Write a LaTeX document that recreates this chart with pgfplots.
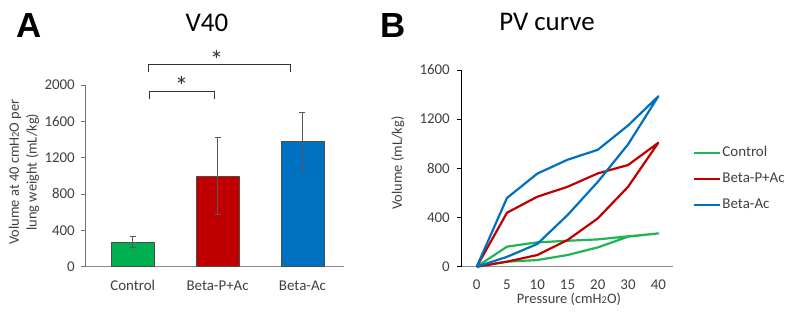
\documentclass[border=0pt]{standalone}
\usepackage{pgfplots}
\pgfplotsset{compat=1.18}
\usepackage{fontspec}
\setmainfont{Carlito}
\newfontfamily\arialb{Liberation Sans}
\definecolor{cgreen}{HTML}{00B050}
\definecolor{cred}{HTML}{C00000}
\definecolor{cblue}{HTML}{0070C0}
\definecolor{lgreen}{HTML}{1EB553}
\definecolor{txt}{HTML}{404040}
\begin{document}
\begin{tikzpicture}[x=1bp,y=1bp]
\path[use as bounding box] (0,0) rectangle (790,320);
\node[font=\arialb\bfseries\fontsize{35}{35}\selectfont, anchor=base, inner sep=0pt] at (29,283) {A};
\node[font=\arialb\bfseries\fontsize{35}{35}\selectfont, anchor=base, inner sep=0pt] at (393,283) {B};
\node[font=\fontsize{27}{27}\selectfont, anchor=base, inner sep=0pt] at (207,289) {V40};
\node[font=\fontsize{27}{27}\selectfont, anchor=base, inner sep=0pt] at (547,290) {PV curve};

% Panel A
\begin{axis}[
  at={(85bp,53.5bp)}, anchor=south west, scale only axis,
  width=259bp, height=181.5bp,
  xmin=-0.562, xmax=2.489, ymin=0, ymax=2000,
  ytick={0,400,...,2000},
  xtick={0,1,2}, xticklabels={Control,Beta-P+Ac,Beta-Ac},
  axis x line*=bottom, axis y line*=left,
  x axis line style={-, draw=black!45, line width=0.8bp},
  y axis line style={-, draw=black!55, line width=0.8bp},
  xtick style={draw=none},
  ytick style={draw=black!55, line width=0.8bp},
  tick align=outside, major tick length=4bp,
  tick label style={font=\fontsize{15}{15}\selectfont, text=txt},
  /pgf/number format/assume math mode=true,
  /pgf/number format/1000 sep={},
  yticklabel style={inner sep=0pt, anchor=east, xshift=-6bp},
  xticklabel style={inner sep=0pt, anchor=base, yshift=-19.5bp},
  ylabel={Volume at 40 cmH{\fontsize{10.5}{10.5}\selectfont 2}O per\\lung weight (mL/kg)},
  every axis y label/.style={at={(axis description cs:-0.2355,0.52)}, rotate=90, anchor=center, align=center, inner sep=0pt, font=\fontsize{14.5}{18}\selectfont, text=txt},
  clip=false,
]
\addplot[ybar, bar shift=0pt, bar width=43bp, fill=cgreen, draw=black!70, line width=0.7bp,
  error bars/.cd, y dir=both, y explicit,
  error bar style={black!65, line width=0.8bp},
  error mark options={rotate=90, mark size=3bp, black!65, line width=0.8bp}]
  coordinates {(0,270) +- (0,60)};
\addplot[ybar, bar shift=0pt, bar width=43bp, fill=cred, draw=black!70, line width=0.7bp,
  error bars/.cd, y dir=both, y explicit,
  error bar style={black!65, line width=0.8bp},
  error mark options={rotate=90, mark size=3bp, black!65, line width=0.8bp}]
  coordinates {(1,997) +- (0,425)};
\addplot[ybar, bar shift=0pt, bar width=43bp, fill=cblue, draw=black!70, line width=0.7bp,
  error bars/.cd, y dir=both, y explicit,
  error bar style={black!65, line width=0.8bp},
  error mark options={rotate=90, mark size=3bp, black!65, line width=0.8bp}]
  coordinates {(2,1375) +- (0,318)};
\draw[black!80, line width=0.8bp] (axis cs:0.192,1849) |- (axis cs:0.961,1934) -- (axis cs:0.961,1849);
\draw[black!80, line width=0.8bp] (axis cs:0.184,2140) |- (axis cs:1.853,2231) -- (axis cs:1.853,2140);
\node[font=\fontsize{27}{27}\selectfont, text=black!80, inner sep=0pt] at (axis cs:0.577,1985) {*};
\node[font=\fontsize{27}{27}\selectfont, text=black!80, inner sep=0pt] at (axis cs:0.989,2275) {*};
\end{axis}

% Panel B
\begin{axis}[
  at={(461bp,53.3bp)}, anchor=south west, scale only axis,
  width=211.7bp, height=196.7bp,
  xmin=-0.519, xmax=6.475, ymin=0, ymax=1600,
  ytick={0,400,...,1600},
  xtick={0,...,6}, xticklabels={0,5,10,15,20,30,40},
  axis x line*=bottom, axis y line*=left,
  x axis line style={-, draw=black!45, line width=0.8bp},
  y axis line style={-, draw=black, line width=0.8bp},
  xtick style={draw=none},
  ytick style={draw=black, line width=0.8bp},
  tick align=outside, major tick length=4bp,
  tick label style={font=\fontsize{15}{15}\selectfont, text=txt},
  /pgf/number format/assume math mode=true,
  /pgf/number format/1000 sep={},
  yticklabel style={inner sep=0pt, anchor=east, xshift=-7bp},
  xticklabel style={inner sep=0pt, anchor=base, yshift=-19bp},
  xlabel={Pressure (cmH{\fontsize{10.5}{10.5}\selectfont 2}O)},
  every axis x label/.style={at={(axis description cs:0.51,-0.185)}, anchor=base, inner sep=0pt, font=\fontsize{14.5}{15}\selectfont, text=txt},
  ylabel={Volume (mL/kg)},
  every axis y label/.style={at={(axis description cs:-0.299,0.527)}, rotate=90, anchor=center, inner sep=0pt, font=\fontsize{14.5}{15}\selectfont, text=txt},
  legend style={at={(1.082,0.446)}, anchor=west, draw=none, fill=none,
    font=\fontsize{15}{15}\selectfont, text=txt,
    nodes={inner sep=1bp, text height=10.5bp, text depth=3bp}, row sep=10.5bp},
  legend cell align=left,
  legend image code/.code={\draw[#1] (0bp,0bp) -- (26bp,0bp);},
  clip=false,
]
\addplot[lgreen, line width=2.2bp, line join=round] coordinates {
 (0,0) (1,41) (2,54) (3,95) (4,157) (5,244) (6,271)
 (5,247) (4,222) (3,211) (2,198) (1,163) (0,0)};
\addlegendentry{Control}
\addplot[cred, line width=2.2bp, line join=round] coordinates {
 (0,0) (1,41) (2,95) (3,217) (4,393) (5,650) (6,1008)
 (5,827) (4,759) (3,650) (2,569) (1,439) (0,0)};
\addlegendentry{Beta-P+Ac}
\addplot[cblue, line width=2.2bp, line join=round] coordinates {
 (0,0) (1,80) (2,185) (3,420) (4,690) (5,995) (6,1386)
 (5,1149) (4,951) (3,870) (2,757) (1,559) (0,0)};
\addlegendentry{Beta-Ac}
\end{axis}
\end{tikzpicture}
\end{document}
